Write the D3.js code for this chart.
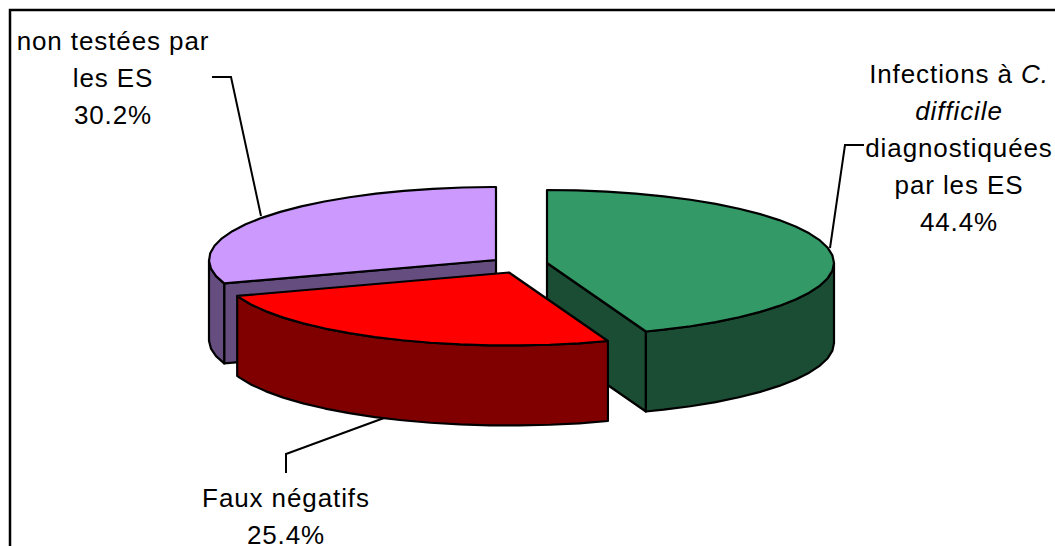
<!DOCTYPE html>
<html lang="fr">
<head>
<meta charset="utf-8">
<title>Répartition des infections à C. difficile</title>
<script src="https://cdn.jsdelivr.net/npm/d3@7/dist/d3.min.js"></script>
<style>
  html, body { margin: 0; padding: 0; background: #fff; overflow: hidden; }
  svg { display: block; }
  text { font-family: "Liberation Sans", Arial, sans-serif; font-size: 26px; letter-spacing: 0.9px; fill: #000; text-anchor: middle; }
</style>
</head>
<body>
<svg id="chart" width="1055" height="546"></svg>
<script>
// Slices, clockwise from twelve o'clock
const categories = ["Infections à C. difficile diagnostiquées par les ES", "Faux négatifs", "non testées par les ES"];
const shares = [44.4, 25.4, 30.2];
const topColours = ["#339966", "#ff0000", "#cc99ff"];

// Label lines per slice; each line is a list of [text, italic] runs
const labelLines = [
  [[["Infections à ", false], ["C.", true]], [["difficile", true]], [["diagnostiquées", false]], [["par les ES", false]]],
  [[["Faux négatifs", false]]],
  [[["non testées par", false]], [["les ES", false]]]
];
const labelAnchors = [[959, 83], [286, 507], [113, 50]];
const leaders = [
  [[864, 145], [845, 145], [830, 248]],
  [[286, 473], [286, 454], [384, 418]],
  [[212, 77], [231, 77], [261, 216]]
];

const lineGap = 37;
const sliceCentres = [[547, 263], [509, 272.5], [496, 260]];
const radiusX = 287, radiusY = 73, depth = 80;
const facetStep = Math.PI / 30;

const svg = d3.select("#chart");
const colour = d3.scaleOrdinal().domain(categories).range(topColours);
const percent = d3.format(".1%");
const shade = c => { const r = d3.rgb(c); return d3.rgb(r.r / 2, r.g / 2, r.b / 2).formatHex(); };

const slices = d3.pie().sort(null).value(d => d.share)(
  categories.map((name, i) => ({ name, share: shares[i], index: i }))
);

// Flattened-disc projection: angle runs clockwise from the top of the ellipse
const project = (cx, cy, a, dy = 0) => [cx + radiusX * Math.sin(a), cy - radiusY * Math.cos(a) + dy];
const outline = d3.line();

const rimAngles = (a0, a1) => {
  const out = d3.range(a0, a1, facetStep);
  out.push(a1);
  return out;
};

const paint = (fill, points) => svg.append("path")
  .attr("d", outline(points) + "Z")
  .attr("fill", fill)
  .attr("stroke", "#000")
  .attr("stroke-width", 2.2)
  .attr("stroke-linejoin", "round");

// Back-most slice first so nearer slices overlap it
[slices[2], slices[0], slices[1]].forEach(s => {
  const [cx, cy] = sliceCentres[s.data.index];
  const top = colour(s.data.name);
  const side = shade(top);

  // Radial wall on whichever cut edge faces the viewer
  const cut = s.data.index === 0 ? s.endAngle : s.data.index === 2 ? s.startAngle : null;
  if (cut !== null) {
    paint(side, [[cx, cy], project(cx, cy, cut), project(cx, cy, cut, depth), [cx, cy + depth]]);
  }

  // Rim wall: the part of the circumference on the near half of the disc
  const from = Math.max(s.startAngle, Math.PI / 2);
  const to = Math.min(s.endAngle, 3 * Math.PI / 2);
  if (from < to) {
    const rim = rimAngles(from, to);
    paint(side, [
      ...rim.map(a => project(cx, cy, a)),
      ...rim.slice().reverse().map(a => project(cx, cy, a, depth))
    ]);
  }

  // Top face
  paint(top, [[cx, cy], ...rimAngles(s.startAngle, s.endAngle).map(a => project(cx, cy, a))]);
});

// Leader lines
svg.append("g").selectAll("path").data(leaders).join("path")
  .attr("d", outline)
  .attr("fill", "none")
  .attr("stroke", "#000")
  .attr("stroke-width", 2);

// Labels: category lines followed by the share
slices.forEach((s, i) => {
  const lines = labelLines[i].concat([[[percent(s.data.share / 100), false]]]);
  const [x, y] = labelAnchors[i];
  lines.forEach((runs, j) => {
    const t = svg.append("text").attr("x", x).attr("y", y + j * lineGap);
    runs.forEach(([str, italic]) => {
      t.append("tspan").attr("font-style", italic ? "italic" : "normal").text(str);
    });
  });
});

// Chart frame: only top and left edges fall inside the canvas
svg.append("path")
  .attr("d", outline([[10, 546], [10, 10], [1055, 10]]))
  .attr("fill", "none")
  .attr("stroke", "#000")
  .attr("stroke-width", 2.5);
</script>
</body>
</html>
